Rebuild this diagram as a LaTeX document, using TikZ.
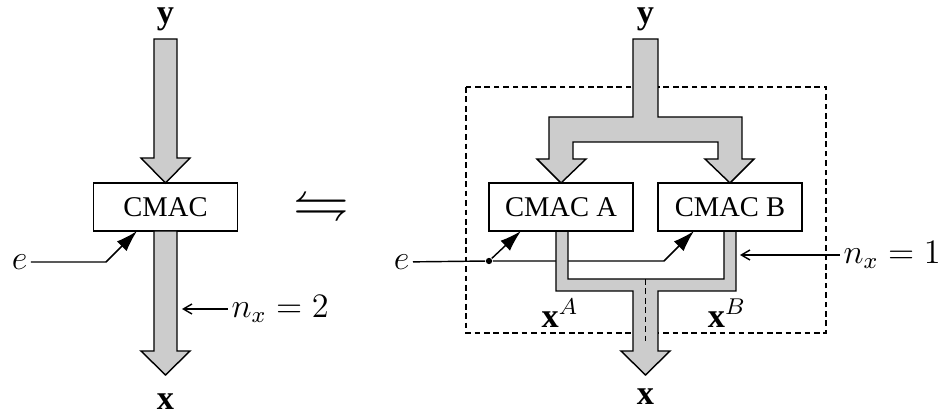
\documentclass[tikz,border=0pt]{standalone}
\usepackage{amssymb}
\usepackage{fontspec}
\setmainfont{Liberation Serif}
\usetikzlibrary{arrows.meta}
\definecolor{grisclaro}{gray}{0.8}

\begin{document}
\begin{tikzpicture}[x=0.35pt, y=-0.35pt, line width=0.5pt,
  caja/.style={draw, fill=white, minimum width=50.4pt, minimum height=16.8pt, inner sep=0pt},
  flecha/.style={draw, fill=grisclaro, line join=miter},
  etiq/.style={inner sep=1pt, font=\large},
  borde/.style={inner sep=0pt, font=\large, anchor=base},
  punta/.style={-{Latex[length=7.5pt,width=4.8pt]}},
  fina/.style={{Straight Barb[length=3pt,width=3.5pt]}-}]
  \useasboundingbox (0,0) rectangle (941,413);
  % bloque unico
  \node[caja] (cmac) at (165.5,207) {CMAC};
  \node[borde] (ytop) at (165.5,24) {$\mathbf{y}$};
  \node[borde] (xbot) at (165.5,410) {$\mathbf{x}$};
  \draw[flecha] (154,39) -- (154,158) -- (141,158) -- (165.5,183) -- (190,158) -- (177,158) -- (177,39) -- cycle;
  \draw[flecha] (154,231) -- (154,351) -- (141,351) -- (165.5,375) -- (190,351) -- (177,351) -- (177,231) -- cycle;
  \node[etiq, anchor=east] (e1) at (31,262) {$e$};
  \coordinate (codo1) at (106,262);
  \coordinate (en1) at (137,231);
  \draw[punta] (e1) -- (codo1) -- (en1);
  \node[etiq, anchor=west] (nx2) at (228,309) {$n_x=2$};
  \coordinate (pn2) at (182,309);
  \draw[fina] (pn2) -- (nx2);
  % equivalencia
  \node (eqv) at (321,206) {\scalebox{1.95}{$\leftrightharpoons$}};
  % dos bloques
  \draw[dash pattern=on 2pt off 1.3pt] (466,87) rectangle (826,333);
  \node[borde] (ytop2) at (645.5,24) {$\mathbf{y}$};
  \node[borde] (xbot2) at (645.5,405) {$\mathbf{x}$};
  \node[etiq, anchor=east] (e2) at (413,262) {$e$};
  \node[circle, fill, inner sep=0pt, minimum size=2.2pt] (nodo) at (489,261) {};
  \coordinate (codo2) at (664,261);
  \coordinate (enA) at (521,231);
  \coordinate (enB) at (694,231);
  \draw (e2) -- (nodo);
  \draw[punta] (nodo) -- (codo2) -- (enB);
  \draw[punta] (nodo) -- (enA);
  \draw[flecha] (633,39) -- (633,117) -- (549,117) -- (549,159) -- (537,159) -- (561,183) -- (586,159) -- (573,159)
    -- (573,142) -- (718,142) -- (718,159) -- (705,159) -- (730,183) -- (754,159) -- (742,159) -- (742,117)
    -- (658,117) -- (658,39) -- cycle;
  \draw[flecha] (556,231) -- (556,291) -- (633,291) -- (633,351) -- (621,351) -- (645.5,375) -- (670,351)
    -- (658,351) -- (658,291) -- (736,291) -- (736,231) -- (724,231) -- (724,279) -- (568,279) -- (568,231) -- cycle;
  \draw[dash pattern=on 2pt off 1.3pt] (645.5,279) -- (645.5,342);
  \node[caja] (cmacA) at (561,207) {CMAC A};
  \node[caja] (cmacB) at (730,207) {CMAC B};
  \node[etiq] (xA) at (560,313) {$\mathbf{x}^A$};
  \node[etiq] (xB) at (727,313) {$\mathbf{x}^B$};
  \node[etiq, anchor=west] (nx1) at (840,255) {$n_x=1$};
  \coordinate (pn1) at (740,255);
  \draw[fina] (pn1) -- (nx1);
\end{tikzpicture}
\end{document}
